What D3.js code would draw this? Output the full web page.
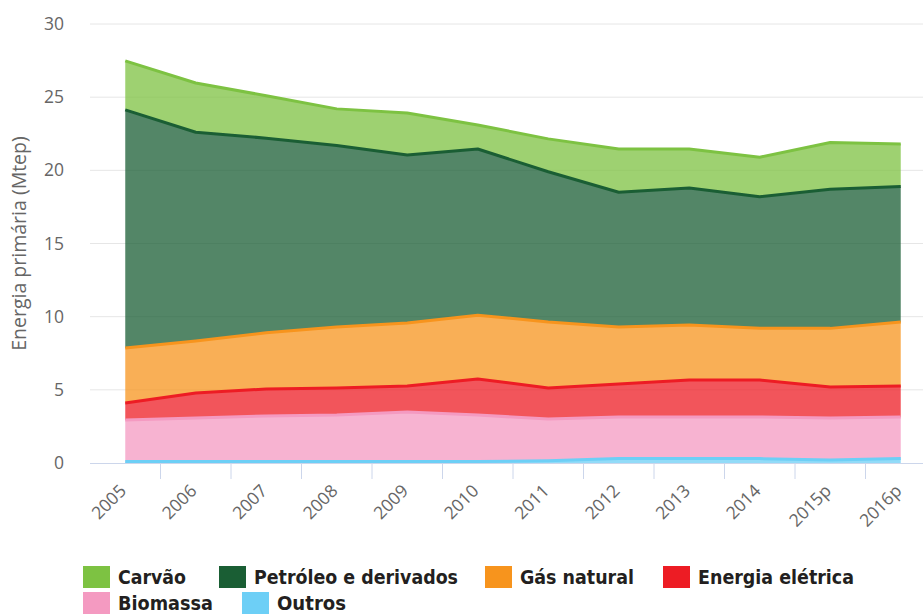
<!DOCTYPE html>
<html>
<head>
<meta charset="utf-8">
<script src="https://cdn.jsdelivr.net/npm/d3@7"></script>
<style>
  body { margin: 0; background: #fff; }
  svg { display: block; }
</style>
</head>
<body>
<svg id="chart" width="923" height="616"></svg>
<script>
const years = ['2005', '2006', '2007', '2008', '2009', '2010', '2011', '2012', '2013', '2014', '2015p', '2016p']
const yTicks = [0, 5, 10, 15, 20, 25, 30]

// stacked bottom to top
const outros = [0.1, 0.1, 0.1, 0.1, 0.1, 0.1, 0.15, 0.3, 0.3, 0.3, 0.2, 0.3]
const biomassa = [2.84, 2.98, 3.11, 3.18, 3.39, 3.18, 2.85, 2.84, 2.84, 2.84, 2.88, 2.84]
const eletrica = [1.16, 1.70, 1.85, 1.85, 1.77, 2.46, 2.13, 2.26, 2.53, 2.53, 2.12, 2.12]
const gas = [3.76, 3.56, 3.84, 4.17, 4.31, 4.36, 4.51, 3.90, 3.76, 3.53, 4.00, 4.38]
const petroleo = [16.27, 14.26, 13.30, 12.40, 11.48, 11.36, 10.26, 9.20, 9.37, 9.00, 9.50, 9.26]
const carvao = [3.35, 3.37, 2.90, 2.50, 2.87, 1.64, 2.25, 2.96, 2.66, 2.70, 3.20, 2.90]

const series = [
  { key: 'outros', name: 'Outros', color: '#6dcff6', values: outros },
  { key: 'biomassa', name: 'Biomassa', color: '#f49ac1', values: biomassa },
  { key: 'eletrica', name: 'Energia elétrica', color: '#ed1c24', values: eletrica },
  { key: 'gas', name: 'Gás natural', color: '#f7941d', values: gas },
  { key: 'petroleo', name: 'Petróleo e derivados', color: '#1a5e34', values: petroleo },
  { key: 'carvao', name: 'Carvão', color: '#7dc242', values: carvao }
]

const rows = years.map((year, i) => {
  const row = { year }
  series.forEach(s => { row[s.key] = s.values[i] })
  return row
})

const svg = d3.select('#chart')
const plot = { left: 90, right: 936, top: 24, bottom: 463 }

const x = d3.scalePoint().domain(years).range([plot.left, plot.right]).padding(0.5)
const y = d3.scaleLinear().domain([0, 30]).range([plot.bottom, plot.top])

// grid
svg.append('g')
  .selectAll('line')
  .data(yTicks.filter(t => t > 0))
  .join('line')
  .attr('x1', plot.left).attr('x2', 923)
  .attr('y1', d => y(d)).attr('y2', d => y(d))
  .attr('stroke', '#e6e6e6')
  .attr('stroke-width', 1)

// y labels
svg.append('g')
  .selectAll('text')
  .data(yTicks)
  .join('text')
  .attr('x', 64)
  .attr('y', d => y(d) + 6)
  .attr('text-anchor', 'end')
  .attr('font-family', 'Open Sans, sans-serif')
  .attr('font-size', 17.5)
  .attr('fill', '#666')
  .text(d => d)

svg.append('text')
  .attr('transform', `translate(26, ${(plot.top + plot.bottom) / 2}) rotate(-90)`)
  .attr('text-anchor', 'middle')
  .attr('font-family', 'Open Sans, sans-serif')
  .attr('font-size', 19.5)
  .attr('fill', '#666')
  .text('Energia primária (Mtep)')

// stacked areas
const stack = d3.stack().keys(series.map(s => s.key))
const layers = stack(rows)

const area = d3.area()
  .x((d, i) => x(years[i]))
  .y0(d => y(d[0]))
  .y1(d => y(d[1]))

const line = d3.line()
  .x((d, i) => x(years[i]))
  .y(d => y(d[1]))

const g = svg.append('g')
g.selectAll('path.area')
  .data(layers)
  .join('path')
  .attr('class', 'area')
  .attr('d', area)
  .attr('fill', (d, i) => series[i].color)
  .attr('fill-opacity', 0.75)

g.selectAll('path.line')
  .data(layers)
  .join('path')
  .attr('class', 'line')
  .attr('d', line)
  .attr('fill', 'none')
  .attr('stroke', (d, i) => series[i].color)
  .attr('stroke-width', 3)
  .attr('stroke-linejoin', 'round')

// x axis
svg.append('line')
  .attr('x1', plot.left).attr('x2', 923)
  .attr('y1', plot.bottom + 0.5).attr('y2', plot.bottom + 0.5)
  .attr('stroke', '#ccd6eb')
  .attr('stroke-width', 1)

const step = x.step()
svg.append('g')
  .selectAll('line')
  .data(years.slice(1))
  .join('line')
  .attr('x1', d => x(d) - step / 2).attr('x2', d => x(d) - step / 2)
  .attr('y1', plot.bottom).attr('y2', plot.bottom + 16)
  .attr('stroke', '#ccd6eb')
  .attr('stroke-width', 1)

svg.append('g')
  .selectAll('text')
  .data(years)
  .join('text')
  .attr('transform', d => `translate(${x(d) + 2}, ${plot.bottom + 29}) rotate(-45)`)
  .attr('text-anchor', 'end')
  .attr('font-family', 'Open Sans, sans-serif')
  .attr('font-size', 17.5)
  .attr('fill', '#666')
  .text(d => d)

// legend
const legendItems = [
  { key: 'carvao', x: 83, y: 566, w: 68 },
  { key: 'petroleo', x: 219, y: 566, w: 204 },
  { key: 'gas', x: 485, y: 566, w: 114 },
  { key: 'eletrica', x: 663, y: 566, w: 156 },
  { key: 'biomassa', x: 83, y: 592, w: 95 },
  { key: 'outros', x: 242, y: 592, w: 69 }
]
const legend = svg.append('g')
legendItems.forEach(item => {
  const s = series.find(d => d.key === item.key)
  legend.append('rect')
    .attr('x', item.x).attr('y', item.y)
    .attr('width', 27).attr('height', 22)
    .attr('fill', s.color)
  legend.append('text')
    .attr('x', item.x + 35)
    .attr('y', item.y + 18)
    .attr('font-family', 'DejaVu Sans Condensed, DejaVu Sans, sans-serif')
    .attr('font-weight', 'bold')
    .attr('font-size', 20)
    .attr('fill', '#231f20')
    .attr('textLength', item.w)
    .attr('lengthAdjust', 'spacingAndGlyphs')
    .text(s.name)
})
</script>
</body>
</html>
